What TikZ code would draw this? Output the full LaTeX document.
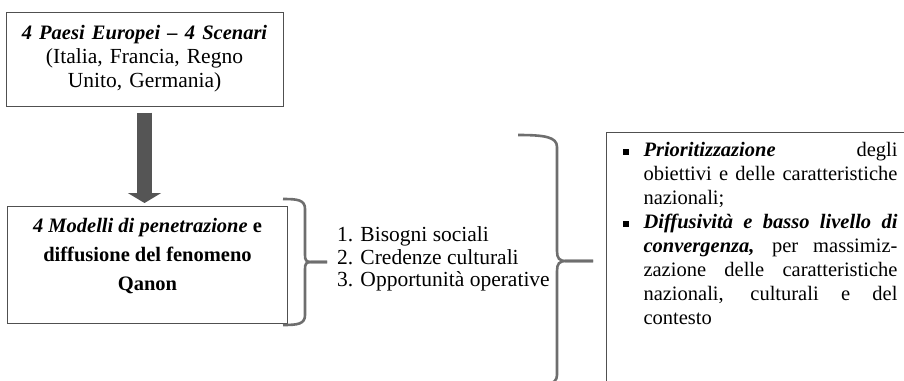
\documentclass[tikz,border=0pt]{standalone}
\usepackage{fontspec}
\setmainfont{Liberation Serif}
\usetikzlibrary{positioning,calc,arrows.meta}
\definecolor{boxline}{RGB}{80,80,80}
\definecolor{bracegray}{RGB}{110,110,110}
\definecolor{arrowgray}{RGB}{85,85,85}
\tikzset{box/.style={draw=boxline,line width=1pt,inner sep=0pt,font=\fontsize{21.5}{24}\selectfont}}
\tikzset{bracket/.style={draw=bracegray,line width=2.6pt}}
\tikzset{bigarrow/.style={draw=arrowgray,line width=15pt,-{Triangle[width=33pt,length=10pt]}}}
\newcommand{\sqbullet}{\makebox[21pt][l]{\raisebox{1.8pt}{\rule{6pt}{6pt}}}}

\begin{document}
\begin{tikzpicture}[x=1pt,y=-1pt]
	\useasboundingbox (0,0) rectangle (904,380);
	\clip (0,0) rectangle (904,380);
	%% boxes
	\node[box,minimum width=277pt,minimum height=94pt,align=center,text width=270pt] (scen) at (144.5,59)
		{{\fontsize{20.5}{24}\selectfont\textbf{\textit{4 Paesi Europei – 4 Scenari}}}\\(Italia, Francia, Regno\\Unito, Germania)};
	\node[box,anchor=north west,inner xsep=7pt,inner ysep=12pt] (models) at (7,206)
		{\parbox[t][93pt][t]{266pt}{\centering\fontsize{20.5}{29}\selectfont
		\textbf{\textit{4 Modelli di penetrazione} e}\\ \textbf{diffusione del fenomeno}\\ \textbf{Qanon}}};
	\node[anchor=west,inner sep=0pt,align=left,font=\fontsize{21.5}{22.5}\selectfont] (factors) at (337,259)
		{1. Bisogni sociali\\2. Credenze culturali\\3. Opportunità operative};
	\node[box,anchor=north west,inner xsep=16pt,inner ysep=10pt] (goals) at (606,132)
		{\parbox[t][280pt][t]{275pt}{\fontsize{20.5}{24}\selectfont
		\tolerance=9999 \hbadness=10000 \parindent=0pt
		\hangindent=21pt \hangafter=1
		\sqbullet\textbf{\textit{Prioritizzazione}} degli\linebreak obiettivi e delle caratteristiche\linebreak nazionali;\par
		\hangindent=21pt \hangafter=1
		\sqbullet\textbf{\textit{Diffusività e basso livello di}}\linebreak \textbf{\textit{convergenza,}} per massimiz-\linebreak zazione delle caratteristiche\linebreak nazionali, culturali e del\linebreak contesto\par}};
	%% arrow
	\draw[bigarrow,shorten <=6pt,shorten >=3pt] (scen.south) -- (scen.south |- models.north);
	%% braces
	\coordinate (b1top) at (283,199);
	\coordinate (b1tip) at (327,262);
	\coordinate (b1bot) at (283,325);
	\draw[bracket] (b1top) .. controls (298,199) and (305,200) .. (305,209) -- (305,255)
		.. controls (305,260) and (306,262) .. (311,262) -- (b1tip);
	\draw[bracket] (b1bot) .. controls (298,325) and (305,324) .. (305,315) -- (305,269)
		.. controls (305,264) and (306,262) .. (311,262) -- (b1tip);
	\coordinate (b2top) at (518,135);
	\coordinate (b2tip) at (593,261);
	\coordinate (b2bot) at (518,387);
	\draw[bracket] (b2top) .. controls (545,135) and (557,137) .. (557,147) -- (557,251)
		.. controls (557,258) and (559,261) .. (566,261) -- (b2tip);
	\draw[bracket] (b2bot) .. controls (545,387) and (557,385) .. (557,375) -- (557,271)
		.. controls (557,264) and (559,261) .. (566,261) -- (b2tip);
\end{tikzpicture}
\end{document}
